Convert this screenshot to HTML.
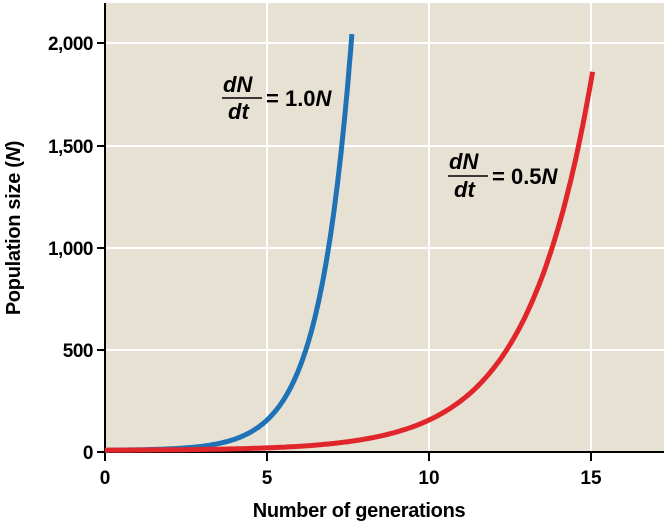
<!DOCTYPE html>
<html><head><style>
body{margin:0;background:#fff;}
svg{display:block;font-family:"Liberation Sans",Arial,sans-serif;font-weight:bold;}
</style></head><body>
<svg id="s" width="667" height="524" viewBox="0 0 667 524">
<rect x="106" y="3" width="558" height="449" fill="#e6e1d3"/>
<g stroke="#fff" stroke-width="2">
<line x1="106" y1="43" x2="664" y2="43"/>
<line x1="106" y1="146" x2="664" y2="146"/>
<line x1="106" y1="248" x2="664" y2="248"/>
<line x1="106" y1="350" x2="664" y2="350"/>
<line x1="267" y1="3" x2="267" y2="452"/>
<line x1="429" y1="3" x2="429" y2="452"/>
<line x1="591" y1="3" x2="591" y2="452"/>
</g>
<g stroke="#000" stroke-width="2">
<line x1="105" y1="3" x2="105" y2="453"/>
<line x1="105" y1="452" x2="664" y2="452"/>
<line x1="97" y1="43" x2="105" y2="43"/>
<line x1="97" y1="146" x2="105" y2="146"/>
<line x1="97" y1="248" x2="105" y2="248"/>
<line x1="97" y1="350" x2="105" y2="350"/>
<line x1="97" y1="452" x2="105" y2="452"/>
<line x1="105" y1="452" x2="105" y2="461"/>
<line x1="267" y1="452" x2="267" y2="461"/>
<line x1="429" y1="452" x2="429" y2="461"/>
<line x1="591" y1="452" x2="591" y2="461"/>
</g>
<path id="blue" fill="none" stroke="#1f72b5" stroke-width="5"/>
<path id="red" fill="none" stroke="#e0262b" stroke-width="5"/>
<g font-size="19" text-anchor="end" letter-spacing="-0.5">
<text x="93" y="50">2,000</text>
<text x="93" y="153">1,500</text>
<text x="93" y="255">1,000</text>
<text x="93" y="357">500</text>
<text x="93" y="459">0</text>
</g>
<g font-size="19" text-anchor="middle">
<text x="105" y="484">0</text>
<text x="267" y="484">5</text>
<text x="429" y="484">10</text>
<text x="591" y="484">15</text>
<text x="359" y="517" font-size="20" letter-spacing="-0.3">Number of generations</text>
</g>
<text transform="translate(20,228) rotate(-90)" font-size="20" text-anchor="middle" letter-spacing="-0.3">Population size (<tspan font-style="italic">N</tspan>)</text>
<g font-size="22" font-style="italic">
<text x="223" y="92">dN</text>
<line x1="222" y1="98" x2="262" y2="98" stroke="#000" stroke-width="1.5"/>
<text x="228" y="119">dt</text>
<text x="266" y="106" font-style="normal">= 1.0<tspan font-style="italic">N</tspan></text>
<text x="449" y="169">dN</text>
<line x1="448" y1="176" x2="488" y2="176" stroke="#000" stroke-width="1.5"/>
<text x="454" y="197">dt</text>
<text x="492" y="184" font-style="normal">= 0.5<tspan font-style="italic">N</tspan></text>
</g>
</svg>
<script>
function X(t){return 105+t*32.4;}
function Y(n){return 452-n*0.2042;}
function mk(r,tmax){var d="";for(var i=0;i<=200;i++){var t=tmax*i/200;var n=8+Math.exp(r*t);d+=(i?"L":"M")+X(t).toFixed(1)+","+Y(n).toFixed(1);}return d;}
document.getElementById("blue").setAttribute("d",mk(1,7.62));
document.getElementById("red").setAttribute("d",mk(0.5,15.05));
</script>
</body></html>
